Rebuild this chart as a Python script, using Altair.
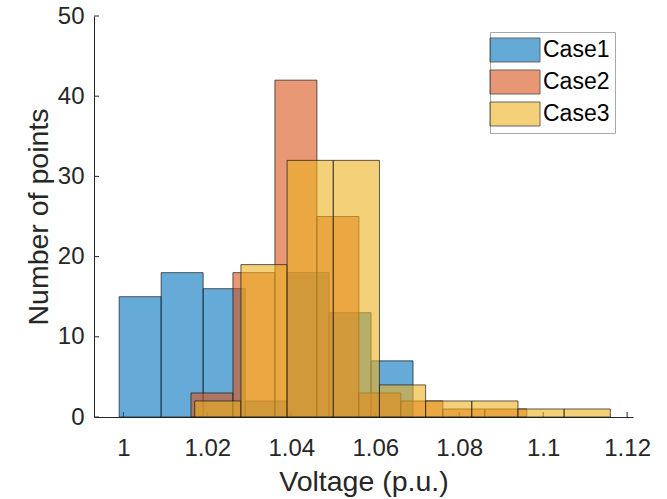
import altair as alt
import pandas as pd

# Histogram counts per case (bin edges in p.u.)
cases = ["Case1", "Case2", "Case3"]
case_colors = ["#0072BD", "#D95319", "#EDB120"]

case1_edges = [0.999, 1.009, 1.019, 1.029, 1.039, 1.049, 1.059, 1.069]
case1_counts = [15, 18, 16, 2, 18, 13, 7]

case2_edges = [1.0161, 1.0261, 1.0361, 1.0461, 1.0561, 1.0661, 1.0761, 1.0861, 1.0961]
case2_counts = [3, 18, 42, 25, 3, 2, 1, 1]

case3_edges = [1.017, 1.028, 1.039, 1.050, 1.061, 1.072, 1.083, 1.094, 1.105, 1.116]
case3_counts = [2, 19, 32, 32, 4, 2, 2, 1, 1]

x_ticks = [1.0, 1.02, 1.04, 1.06, 1.08, 1.1, 1.12]
y_ticks = [0, 10, 20, 30, 40, 50]

rows = []
for name, edges, counts in zip(cases, [case1_edges, case2_edges, case3_edges],
                               [case1_counts, case2_counts, case3_counts]):
    for i, c in enumerate(counts):
        rows.append({"case": name, "lo": edges[i], "hi": edges[i + 1], "count": c, "base": 0})
bins = pd.DataFrame(rows)

FONT = "Liberation Sans"
INK = "#262626"

x_scale = alt.Scale(domain=[0.993, 1.1214], nice=False, zero=False)
y_scale = alt.Scale(domain=[0, 50], nice=False)

axis_style = dict(ticks=False, grid=False, domainColor=INK, domainWidth=1,
                  labelFont=FONT, labelFontSize=24, labelColor=INK,
                  titleFont=FONT, titleFontSize=28.5, titleFontWeight="normal",
                  titleColor=INK)
x_axis = alt.Axis(values=x_ticks, labelExpr="format(datum.value, '.2~f')",
                  labelPadding=19, titlePadding=7, **axis_style)
y_axis = alt.Axis(values=y_ticks, labelPadding=10, titlePadding=4, **axis_style)

x_enc = alt.X("lo:Q", scale=x_scale, title="Voltage (p.u.)", axis=x_axis)
y_enc = alt.Y("count:Q", scale=y_scale, title="Number of points", axis=y_axis)

# Wide rectangular legend swatch (50 x 24 px at symbolSize 625)
swatch = "M-2,-0.96H2V0.96H-2Z"

bars = alt.Chart(bins).mark_rect(
    fillOpacity=0.6, stroke="#1a1a1a", strokeOpacity=0.7, strokeWidth=1
).encode(
    x=x_enc,
    x2="hi:Q",
    y=y_enc,
    y2="base:Q",
    color=alt.Color("case:N", scale=alt.Scale(domain=cases, range=case_colors),
                    legend=alt.Legend(
                        title=None, orient="none", legendX=396, legendY=16,
                        direction="vertical", fillColor="white", strokeColor="#a8a8a8",
                        padding=5, rowPadding=4,
                        symbolType=swatch, symbolSize=625, symbolOffset=7,
                        symbolStrokeColor="black", symbolStrokeWidth=1,
                        symbolOpacity=0.6,
                        labelFont=FONT, labelFontSize=23, labelColor="black",
                        labelOffset=15,
                    )),
)

# Inward-pointing tick marks on both axes
ytick_marks = alt.Chart(pd.DataFrame({"count": y_ticks})).mark_rule(
    color=INK, strokeWidth=1
).encode(y=y_enc, x=alt.value(0), x2=alt.value(5))

xtick_marks = alt.Chart(pd.DataFrame({"lo": x_ticks})).mark_rule(
    color=INK, strokeWidth=1
).encode(x=x_enc, y=alt.value(401), y2=alt.value(396))

chart = alt.layer(ytick_marks, xtick_marks, bars).properties(
    width=539, height=401,
    autosize=alt.AutoSizeParams(type="none"),
    padding={"left": 94, "top": 16, "right": 34, "bottom": 82},
    background="white",
).configure_view(stroke=None)

chart.save("out.html", embed_options={"renderer": "svg", "actions": False})
